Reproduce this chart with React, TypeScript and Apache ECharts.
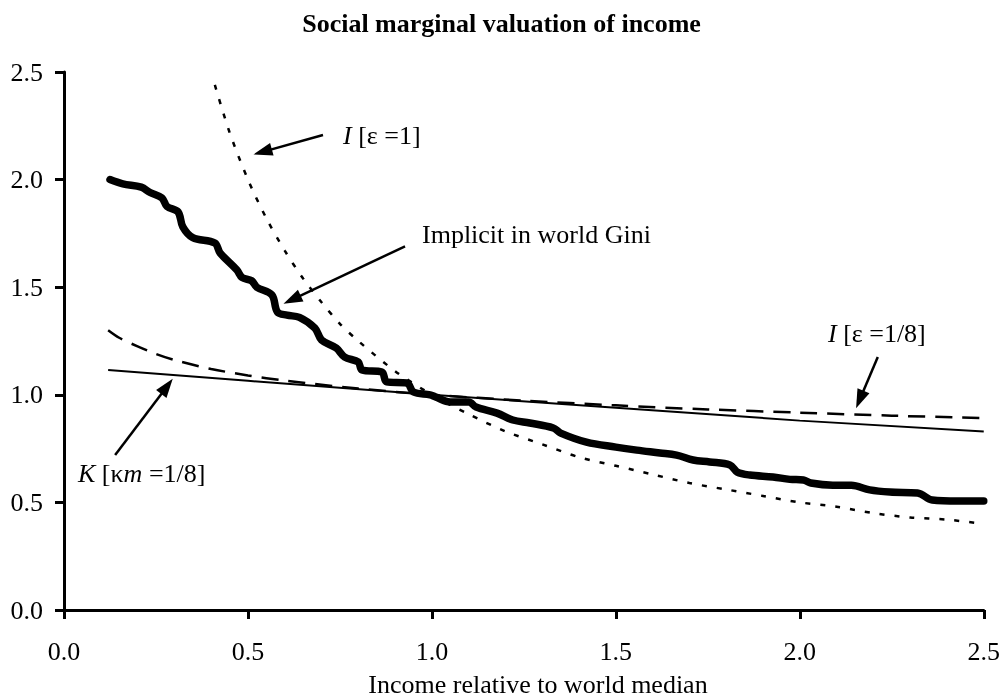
import React, { useEffect, useRef } from "react";
import * as echarts from "echarts";

const FONT = "'Liberation Serif', 'Times New Roman', serif";

const xTicks = ["0.0", "0.5", "1.0", "1.5", "2.0", "2.5"];

// I [ε = 1] (dotted)
const eps1X = [0.41, 0.45, 0.5, 0.55, 0.6, 0.65, 0.7, 0.75, 0.8, 0.9, 1.0, 1.1, 1.2, 1.3, 1.4, 1.5, 1.6, 1.7, 1.8, 1.9, 2.0, 2.1, 2.2, 2.3, 2.4, 2.5];
const eps1Y = [2.44, 2.22, 2.0, 1.82, 1.67, 1.54, 1.43, 1.33, 1.25, 1.11, 1.0, 0.91, 0.83, 0.77, 0.71, 0.67, 0.63, 0.59, 0.56, 0.53, 0.5, 0.48, 0.45, 0.43, 0.42, 0.4];

// I [ε = 1/8] (dashed)
const eps8X = [0.12, 0.15, 0.2, 0.25, 0.3, 0.4, 0.5, 0.6, 0.8, 1.0, 1.25, 1.5, 1.75, 2.0, 2.25, 2.5];
const eps8Y = [1.3, 1.265, 1.225, 1.19, 1.162, 1.12, 1.09, 1.066, 1.029, 1.0, 0.973, 0.951, 0.932, 0.917, 0.903, 0.892];

// K [κm = 1/8] (solid)
const kX = [0.12, 0.5, 1.0, 1.5, 2.0, 2.5];
const kY = [1.115, 1.065, 1.0, 0.94, 0.88, 0.83];

// Implicit in world Gini (thick)
const giniX = [0.125, 0.16, 0.21, 0.234, 0.266, 0.28, 0.31, 0.323, 0.35, 0.41, 0.424, 0.47, 0.484, 0.51, 0.524, 0.565, 0.58, 0.606, 0.64, 0.682, 0.7, 0.74, 0.763, 0.8, 0.81, 0.864, 0.877, 0.932, 0.95, 0.995, 1.01, 1.05, 1.1, 1.12, 1.177, 1.22, 1.266, 1.33, 1.35, 1.42, 1.5, 1.557, 1.62, 1.665, 1.71, 1.755, 1.81, 1.83, 1.864, 1.927, 1.973, 2.01, 2.03, 2.09, 2.14, 2.19, 2.245, 2.32, 2.36, 2.43, 2.5];
const giniY = [2.0, 1.98, 1.965, 1.94, 1.915, 1.875, 1.85, 1.78, 1.73, 1.705, 1.66, 1.58, 1.545, 1.53, 1.5, 1.464, 1.385, 1.37, 1.36, 1.31, 1.255, 1.217, 1.175, 1.152, 1.115, 1.106, 1.06, 1.055, 1.013, 1.0, 0.99, 0.967, 0.967, 0.943, 0.915, 0.883, 0.869, 0.846, 0.822, 0.78, 0.757, 0.743, 0.73, 0.72, 0.697, 0.688, 0.674, 0.641, 0.627, 0.618, 0.607, 0.604, 0.59, 0.58, 0.58, 0.558, 0.548, 0.544, 0.511, 0.506, 0.506];

// Annotation arrows: [tailX, tailY, headX, headY]
const arrows = [
  [0.704, 2.207, 0.54, 2.129],
  [0.927, 1.69, 0.62, 1.442],
  [0.139, 0.72, 0.28, 1.039],
  [2.212, 1.176, 2.163, 0.978],
];

const zip = (xs: number[], ys: number[]) => xs.map((x, i) => [x, ys[i]]);

export default function App() {
  const ref = useRef<HTMLDivElement>(null);
  useEffect(() => {
    if (!ref.current) return;
    const chart = echarts.init(ref.current, null, { renderer: "svg" });
    const rich = {
      i: { fontStyle: "italic", fontFamily: FONT, fontSize: 26, fill: "#000" },
    };
    const labelStyle = (x: number, y: number, text: string) => ({
      type: "text",
      left: x,
      top: y - 15,
      style: {
        text,
        fontFamily: FONT,
        fontSize: 26,
        fill: "#000",
        rich,
      },
    });
    chart.setOption({
      animation: false,
      grid: { left: 64, right: 19, top: 72, bottom: 87 },
      xAxis: {
        type: "value",
        min: 0,
        max: 2.5,
        interval: 0.5,
        axisLine: { show: true, lineStyle: { color: "#000", width: 3 } },
        axisTick: { show: true, length: 9, lineStyle: { color: "#000", width: 3 } },
        splitLine: { show: true, lineStyle: { color: "rgba(0,0,0,0)" } },
        axisLabel: {
          margin: 28,
          fontFamily: FONT,
          fontSize: 26,
          color: "#000",
          formatter: (v: number) => xTicks[Math.round(v / 0.5)] ?? v.toFixed(1),
        },
      },
      yAxis: {
        type: "value",
        min: 0,
        max: 2.5,
        interval: 0.5,
        axisLine: { show: true, lineStyle: { color: "#000", width: 3 } },
        axisTick: { show: true, length: 9, lineStyle: { color: "#000", width: 3 } },
        splitLine: { show: true, lineStyle: { color: "rgba(0,0,0,0)" } },
        axisLabel: {
          margin: 21,
          fontFamily: FONT,
          fontSize: 26,
          color: "#000",
          formatter: (v: number) => v.toFixed(1),
        },
      },
      graphic: [
        {
          type: "text",
          left: "center",
          top: 10,
          style: {
            text: "Social marginal valuation of income",
            fontFamily: FONT,
            fontSize: 26,
            fontWeight: "bold",
            fill: "#000",
          },
        },
        {
          type: "text",
          x: 538,
          y: 671,
          style: {
            text: "Income relative to world median",
            fontFamily: FONT,
            fontSize: 26,
            fill: "#000",
            align: "center",
          },
        },
        labelStyle(343, 137, "{i|I} [ε =1]"),
        labelStyle(422, 236, "Implicit in world Gini"),
        labelStyle(828, 335, "{i|I} [ε =1/8]"),
        labelStyle(78, 475, "{i|K} [κ{i|m} =1/8]"),
      ],
      series: [
        {
          name: "I [ε =1]",
          type: "line",
          showSymbol: false,
          smooth: 0.3,
          data: zip(eps1X, eps1Y),
          lineStyle: { color: "#000", width: 2.5, type: [5, 10] },
          z: 2,
        },
        {
          name: "I [ε =1/8]",
          type: "line",
          showSymbol: false,
          smooth: 0.3,
          data: zip(eps8X, eps8Y),
          lineStyle: { color: "#000", width: 2.5, type: [17, 10] },
          z: 2,
        },
        {
          name: "K [κm =1/8]",
          type: "line",
          showSymbol: false,
          data: zip(kX, kY),
          lineStyle: { color: "#000", width: 2 },
          z: 2,
          markLine: {
            silent: true,
            animation: false,
            symbol: ["none", "triangle"],
            symbolSize: [13, 19],
            label: { show: false },
            lineStyle: { color: "#000", width: 2.5, type: "solid" },
            itemStyle: { color: "#000" },
            data: arrows.map((a) => [
              { coord: [a[0], a[1]] },
              { coord: [a[2], a[3]] },
            ]),
          },
        },
        {
          name: "Implicit in world Gini",
          type: "line",
          showSymbol: false,
          smooth: 0.35,
          data: zip(giniX, giniY),
          lineStyle: { color: "#000", width: 7.5, cap: "round", join: "round" },
          z: 3,
        },
      ],
    });
    return () => chart.dispose();
  }, []);
  return (
    <div
      ref={ref}
      style={{ position: "fixed", left: 0, top: 0, width: 1003, height: 697 }}
    />
  );
}
